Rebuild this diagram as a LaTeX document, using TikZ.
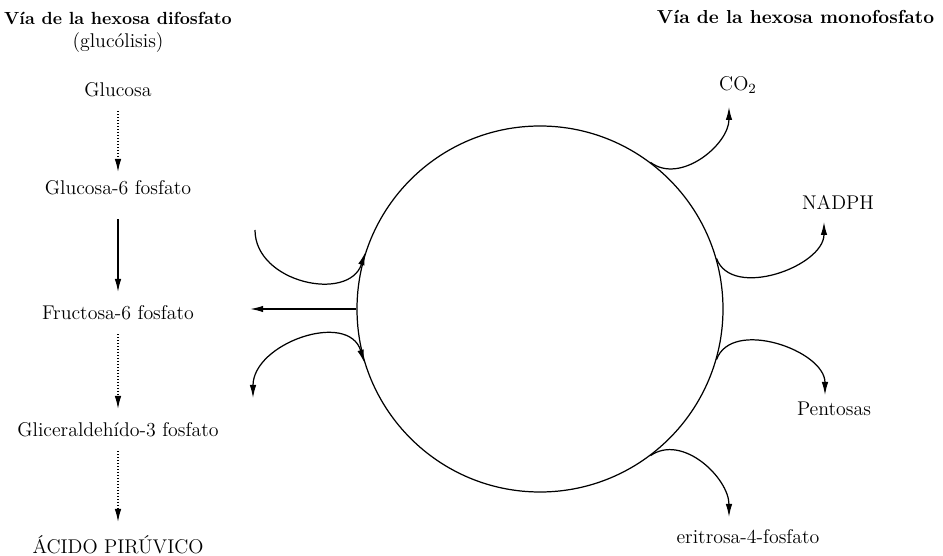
\documentclass[tikz,border=0pt]{standalone}
\usepackage{amsmath}
\usepackage{tikz}
\usetikzlibrary{arrows.meta, positioning}

\begin{document}
\begin{tikzpicture}[x=0.2mm, y=0.2mm,
    flecha/.style={line width=0.7pt, -{Latex[length=2.6mm, width=1.3mm]}},
    flechap/.style={flecha, densely dotted},
    texto/.style={inner sep=2pt, font=\fontsize{11.3}{13}\selectfont},
    titulo/.style={inner sep=2pt, font=\bfseries}]
  \useasboundingbox (0,0) rectangle (943,556);

  % columna de la glucolisis
  \node[titulo] (tizq) at (118,538) {Vía de la hexosa difosfato};
  \node[texto] (gluc) at (118,513) {(glucólisis)};
  \node[texto] (glu) at (118,466) {Glucosa};
  \node[texto] (g6p) at (118,368) {Glucosa-6 fosfato};
  \node[texto] (f6p) at (118,243) {Fructosa-6 fosfato};
  \node[texto] (g3p) at (118,126) {Gliceraldehído-3 fosfato};
  \node[texto] (pir) at (118,11) {ÁCIDO PIRÚVICO};

  \draw[flechap] ([yshift=-2mm]glu.south) -- ([yshift=1mm]g6p.north);
  \draw[flecha] ([yshift=-4mm]g6p.south) -- ([yshift=2mm]f6p.north);
  \draw[flechap] ([yshift=-2mm]f6p.south) -- ([yshift=2mm]g3p.north);
  \draw[flechap] ([yshift=-2mm]g3p.south) -- ([yshift=2mm]pir.north);

  % ciclo de las pentosas
  \node[titulo, anchor=east, font=\fontsize{10.7}{12}\bfseries\selectfont] (tder) at (938,539) {Vía de la hexosa monofosfato};
  \node[draw, circle, line width=0.7pt, minimum size=73.2mm, inner sep=0pt] (ciclo) at (540,247) {};

  \node[texto] (co2) at (738,471) {CO$_2$};
  \node[texto] (nadph) at (838,354) {NADPH};
  \node[texto] (pent) at (834,147) {Pentosas};
  \node[texto] (eri) at (748,19) {eritrosa-4-fosfato};

  \coordinate (entrada) at (255,326);
  \coordinate (salida) at (253,158);
  \coordinate (pco2) at (729,449);
  \coordinate (pnadph) at (824,334);
  \coordinate (ppent) at (825,161);
  \coordinate (peri) at (729,39);

  \draw[flecha] (entrada) to[out=-90, in=252, looseness=1.2] (ciclo.162.6);
  \draw[flecha, {Latex[length=2.6mm, width=1.3mm]}-{Latex[length=2.6mm, width=1.3mm]}]
    (ciclo.197) to[out=107, in=90, looseness=1.2] (salida);
  \draw[flecha] (ciclo.west) -- ([xshift=10.5mm]f6p.east |- ciclo.west);

  \draw[flecha] (ciclo.53) to[out=-37, in=-90] (pco2);
  \draw[flecha] (ciclo.16) to[out=-70, in=-90] (pnadph);
  \draw[flecha] (ciclo.-16) to[out=70, in=90] (ppent);
  \draw[flecha] (ciclo.-53) to[out=35, in=90] (peri);
\end{tikzpicture}
\end{document}
